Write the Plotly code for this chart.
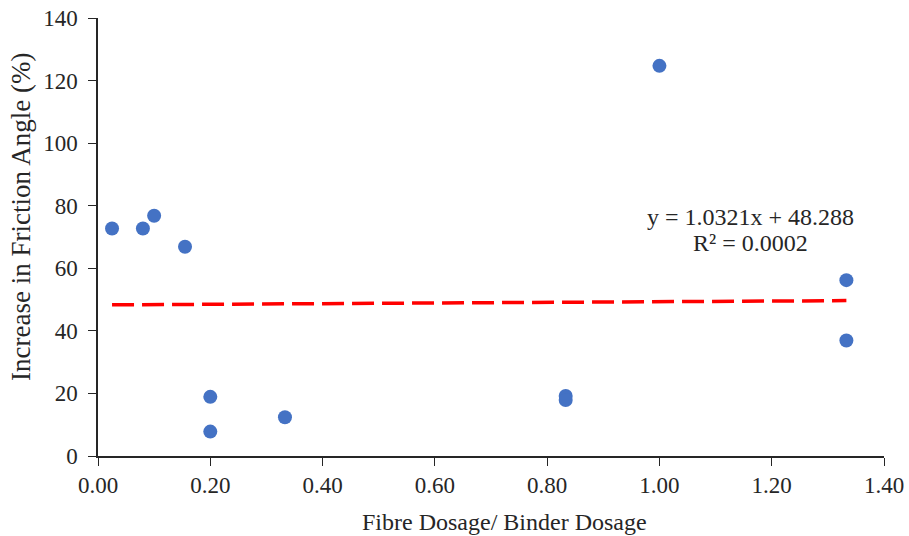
import plotly.graph_objects as go

x_vals = [0.025, 0.08, 0.1, 0.155, 0.2, 0.2, 0.333, 0.833, 0.833, 1.0, 1.333, 1.333]
y_vals = [72.7, 72.7, 76.8, 66.9, 18.9, 7.8, 12.4, 19.2, 17.9, 124.7, 56.2, 36.9]
slope = 1.0321
intercept = 48.288
trend_x = [min(x_vals), max(x_vals)]
trend_y = [slope * v + intercept for v in trend_x]

font_family = "Liberation Serif, Times New Roman, serif"
txt_color = "#262626"

# target plot box (pixels)
L, R, T, B = 98, 25, 18, 80
W, H = 909, 536
pw, ph = W - L - R, H - T - B


def px_to_paper(px, py):
    return (px - L) / pw, (H - py - B) / ph


fig = go.Figure()
fig.add_trace(go.Scatter(x=trend_x, y=trend_y, mode="lines",
                         line=dict(color="#FF0000", width=3.5, dash="22px,8px"),
                         showlegend=False, hoverinfo="skip"))
fig.add_trace(go.Scatter(x=x_vals, y=y_vals, mode="markers",
                         marker=dict(color="#4472C4", size=14),
                         showlegend=False))

texts = [
    ("y = 1.0321x + 48.288", 750, 217, 24, 0),
    ("R² = 0.0002", 750, 243, 24, 0),
    ("Fibre Dosage/ Binder Dosage", 504, 522, 24, 0),
    ("Increase in Friction Angle (%)", 21, 217, 27, -90),
]
for t, px, py, sz, ang in texts:
    ax_, ay_ = px_to_paper(px, py)
    fig.add_annotation(x=ax_, y=ay_, xref="paper", yref="paper", text=t,
                       showarrow=False, xanchor="center", yanchor="middle",
                       textangle=ang,
                       font=dict(family=font_family, size=sz, color=txt_color))

fig.update_layout(
    width=W, height=H,
    margin=dict(l=L, r=R, t=T, b=B),
    paper_bgcolor="white", plot_bgcolor="white",
    font=dict(family=font_family, size=23, color=txt_color),
    xaxis=dict(range=[0, 1.4], tickvals=[0, 0.2, 0.4, 0.6, 0.8, 1.0, 1.2, 1.4],
               tickformat=".2f", showgrid=False, zeroline=False,
               showline=True, linecolor="#262626", linewidth=1.5,
               ticks="outside", ticklen=8, tickcolor="#262626",
               automargin=False, ticklabeloverflow="allow"),
    yaxis=dict(range=[0, 140], tickvals=list(range(0, 141, 20)),
               showgrid=False, zeroline=False,
               showline=True, linecolor="#262626", linewidth=1.5,
               ticks="outside", ticklen=8, tickcolor="#262626",
               ticklabelstandoff=6, automargin=False,
               ticklabeloverflow="allow"),
)

fig.write_html("out.html")
